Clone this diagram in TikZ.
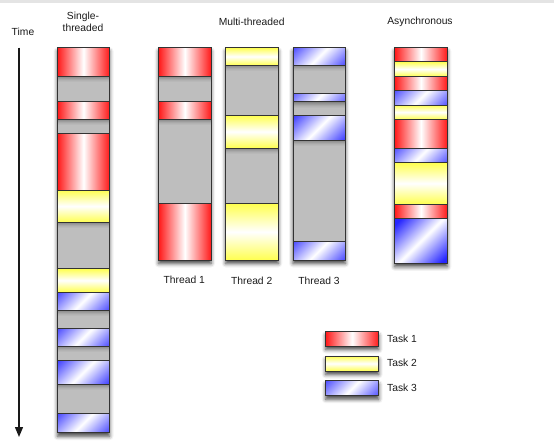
\documentclass[tikz,border=0pt]{standalone}
\usepackage{fontspec}
\setmainfont{Liberation Sans}
\usetikzlibrary{arrows.meta,shadows.blur}
\definecolor{rd}{HTML}{FF1A1A}
\definecolor{yl}{HTML}{FFFF50}
\definecolor{bl}{HTML}{2626FF}
\definecolor{sg}{HTML}{BEBEBE}
\definecolor{bd}{HTML}{333333}
\definecolor{topbar}{HTML}{E4E4E4}
\definecolor{txt}{HTML}{1A1A1A}
\tikzset{
  seg/.style={draw=bd, line width=0.8pt},
  tred/.style={seg, left color=rd, right color=rd, middle color=white},
  tyel/.style={seg, top color=yl, bottom color=yl, middle color=white},
  tblu/.style={seg, fill=bl, path picture={\fill[top color=bl, bottom color=bl, middle color=white, shading angle=45]
      ([shift={(-30pt,-30pt)}]path picture bounding box.center) rectangle
      ([shift={(30pt,30pt)}]path picture bounding box.center);}},
  gap/.style={seg, fill=sg, path picture={
      \foreach \i/\o in {0/0.30,1/0.23,2/0.17,3/0.11,4/0.06,5/0.03}
        \fill[black, opacity=\o]
          ([yshift=-\i pt]path picture bounding box.north west) rectangle
          ([yshift=-\i pt-1pt]path picture bounding box.north east);}},
  colshadow/.style={blur shadow={shadow xshift=0pt, shadow yshift=-3.5pt, shadow blur radius=4pt, shadow opacity=75}},
  lbl/.style={text=txt, font=\fontsize{10.3}{12.3}\selectfont, inner sep=0pt},
}
\begin{document}
\begin{tikzpicture}[x=1pt,y=-1pt]
\useasboundingbox (0,0) rectangle (554,447);
\fill[topbar] (0,0) rectangle (554,3);

% Time arrow
\node[lbl] (time) at (23,32) {Time};
\coordinate (t0) at (19,47.7);
\coordinate (t1) at (19,437);
\draw[line width=1.3pt, draw=black!90, -{Triangle[length=10pt,width=8pt]}] (t0) -- (t1);

% Headers
\node[lbl, align=center] (hsingle) at (83,22) {Single-\\threaded};
\node[lbl] (hmulti) at (251.7,21.7) {Multi-threaded};
\node[lbl] (hasync) at (420,21.7) {Asynchronous};

% Single-threaded column
\path[colshadow] (57.5,47.7) rectangle (109.5,432.7);
\foreach \a/\b/\s in {47.7/76/tred, 76/101.7/gap, 101.7/119.3/tred, 119.3/133.3/gap,
  133.3/190/tred, 190/222.3/tyel, 222.3/268.7/gap, 268.7/292/tyel, 292/310/tblu,
  310/328.7/gap, 328.7/346/tblu, 346/360/gap, 360/384/tblu, 384/413.3/gap, 413.3/432.7/tblu}
  \draw[\s] (57.5,\a) rectangle (109.5,\b);

% Thread 1
\path[colshadow] (158.7,47.7) rectangle (211,260);
\foreach \a/\b/\s in {47.7/76.3/tred, 76.3/101.3/gap, 101.3/119.3/tred, 119.3/203.7/gap, 203.7/260/tred}
  \draw[\s] (158.7,\a) rectangle (211,\b);
% Thread 2
\path[colshadow] (225.7,47.7) rectangle (278.3,260);
\foreach \a/\b/\s in {47.7/65.3/tyel, 65.3/115.3/gap, 115.3/148/tyel, 148/203.7/gap, 203.7/260/tyel}
  \draw[\s] (225.7,\a) rectangle (278.3,\b);
% Thread 3
\path[colshadow] (293,47.7) rectangle (345.3,260);
\foreach \a/\b/\s in {47.7/65.3/tblu, 65.3/93/gap, 93/101.7/tblu, 101.7/115.3/gap, 115.3/140/tblu, 140/241/gap, 241/260/tblu}
  \draw[\s] (293,\a) rectangle (345.3,\b);

\node[lbl] (th1) at (184.3,280) {Thread 1};
\node[lbl] (th2) at (251.7,280.5) {Thread 2};
\node[lbl] (th3) at (319,281) {Thread 3};

% Asynchronous
\path[colshadow] (394.7,47.7) rectangle (447.3,263.3);
\foreach \a/\b/\s in {47.7/61.7/tred, 61.7/76.3/tyel, 76.3/90.7/tred, 90.7/105/tblu, 105/119.3/tyel,
  119.3/148.3/tred, 148.3/162.7/tblu, 162.7/204/tyel, 204/218.3/tred, 218.3/263.3/tblu}
  \draw[\s] (394.7,\a) rectangle (447.3,\b);

% Legend
\path[colshadow] (325.7,331.7) rectangle (378.7,346);
\draw[tred] (325.7,331.7) rectangle (378.7,346);
\path[colshadow] (325.7,356) rectangle (378.7,371);
\draw[tyel] (325.7,356) rectangle (378.7,371);
\path[colshadow] (325.7,380.7) rectangle (378.7,395.7);
\draw[tblu] (325.7,380.7) rectangle (378.7,395.7);
\node[lbl, anchor=west] (l1) at (387,339) {Task 1};
\node[lbl, anchor=west] (l2) at (387,363.3) {Task 2};
\node[lbl, anchor=west] (l3) at (387,387.7) {Task 3};
\end{tikzpicture}
\end{document}
